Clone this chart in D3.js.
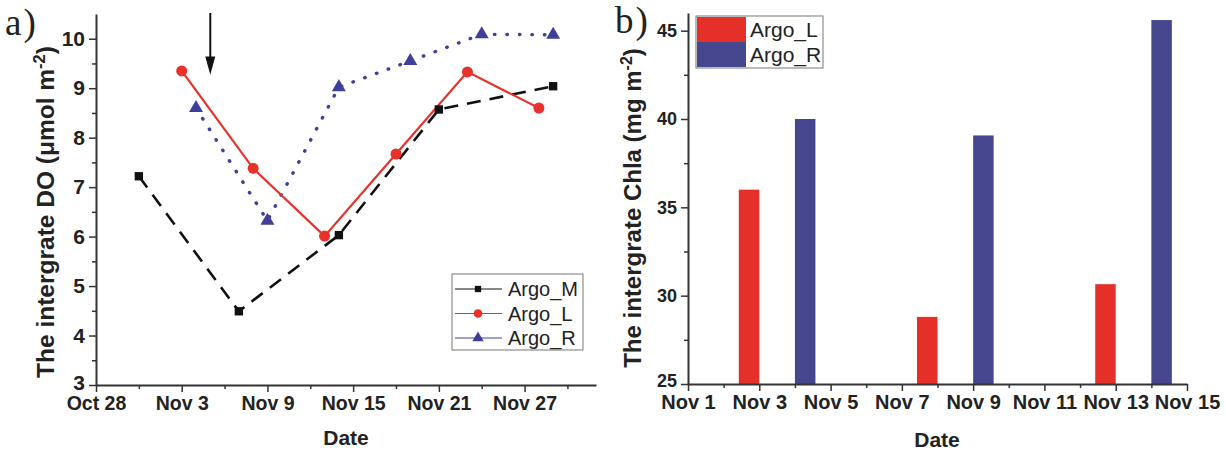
<!DOCTYPE html>
<html>
<head>
<meta charset="utf-8">
<script src="https://cdn.jsdelivr.net/npm/d3@7"></script>
<style>
  body { margin: 0; background: #fff; }
  svg { display: block; font-family: "Liberation Sans", Arial, sans-serif; }
</style>
</head>
<body>
<div id="chart"></div>
<script>
// ---- panel a) integrated DO ----
const doTicks = ["2015-10-28", "2015-11-03", "2015-11-09", "2015-11-15", "2015-11-21", "2015-11-27"];
const doDatesM = ["2015-10-31", "2015-11-07", "2015-11-14", "2015-11-21", "2015-11-29"];
const doValuesM = [7.22, 4.49, 6.03, 8.57, 9.04];
const doDatesL = ["2015-11-03", "2015-11-08", "2015-11-13", "2015-11-18", "2015-11-23", "2015-11-28"];
const doValuesL = [9.35, 7.38, 6.01, 7.67, 9.33, 8.60];
const doDatesR = ["2015-11-04", "2015-11-09", "2015-11-14", "2015-11-19", "2015-11-24", "2015-11-29"];
const doValuesR = [8.60, 6.32, 9.02, 9.55, 10.09, 10.08];
const doYTicks = [3, 4, 5, 6, 7, 8, 9, 10];

// ---- panel b) integrated Chla ----
const chlTicks = ["2015-11-01", "2015-11-03", "2015-11-05", "2015-11-07", "2015-11-09", "2015-11-11", "2015-11-13", "2015-11-15"];
const chlDatesL = ["2015-11-03", "2015-11-08", "2015-11-13"];
const chlValuesL = [36.0, 28.8, 30.65];
const chlDatesR = ["2015-11-04", "2015-11-09", "2015-11-14"];
const chlValuesR = [40.0, 39.07, 45.6];
const chlYTicks = [25, 30, 35, 40, 45];

const parse = d3.utcParse("%Y-%m-%d");
const fmt = d3.utcFormat("%b %-d");

const RED = "#e8312b", BLUE = "#3f3f9a", BAR_BLUE = "#46468f", AXIS = "#333";

const svg = d3.select("#chart").append("svg")
  .attr("width", 1226).attr("height", 451);

// minor ticks halfway between majors
function minorTicks(vals) {
  const out = [];
  for (let i = 0; i < vals.length - 1; i++) out.push(vals[i] + (vals[i + 1] - vals[i]) / 2);
  return out;
}

function styleMajor(g, size) {
  g.select(".domain").attr("stroke", AXIS).attr("stroke-width", 2);
  g.selectAll("line").attr("stroke", AXIS).attr("stroke-width", 1.5);
  g.selectAll("text").attr("fill", "#222").style("font-size", size).style("font-weight", "bold");
}

// ================= panel a =================
const xa = d3.scaleUtc()
  .domain([parse("2015-10-28"), parse("2015-12-02")])
  .range([96, 596]);
const ya = d3.scaleLinear().domain([3, 10.5]).range([385, 14]);

const aMajor = doTicks.map(parse);
const aMinor = aMajor.map(d => d3.utcDay.offset(d, 3));

// x axis
svg.append("g")
  .attr("transform", "translate(0,385)")
  .call(d3.axisBottom(xa).tickValues(aMinor).tickFormat("").tickSize(4).tickSizeOuter(0))
  .call(g => g.select(".domain").remove())
  .selectAll("line").attr("stroke", AXIS).attr("stroke-width", 1.5);
svg.append("g")
  .attr("transform", "translate(0,385)")
  .call(d3.axisBottom(xa).tickValues(aMajor).tickFormat(fmt).tickSize(7).tickSizeOuter(0).tickPadding(4))
  .call(g => styleMajor(g, "19.5px"));

// y axis
svg.append("g")
  .attr("transform", "translate(96,0)")
  .call(d3.axisLeft(ya).tickValues(minorTicks(doYTicks)).tickFormat("").tickSize(4).tickSizeOuter(0))
  .call(g => g.select(".domain").remove())
  .selectAll("line").attr("stroke", AXIS).attr("stroke-width", 1.5);
svg.append("g")
  .attr("transform", "translate(96,0)")
  .call(d3.axisLeft(ya).tickValues(doYTicks).tickSize(7).tickSizeOuter(0).tickPadding(4))
  .call(g => styleMajor(g, "21px"))
  .call(g => g.selectAll("text").filter(d => d === 3).attr("dy", "0.2em"));

// axis titles
svg.append("text")
  .attr("x", 346).attr("y", 445)
  .attr("text-anchor", "middle")
  .style("font-size", "21px").style("font-weight", "bold").attr("fill", "#222")
  .text("Date");
const yTitleA = svg.append("text")
  .attr("transform", "translate(54,212) rotate(-90)")
  .attr("text-anchor", "middle")
  .style("font-size", "24.5px").style("font-weight", "bold").attr("fill", "#222");
yTitleA.append("tspan").text("The intergrate DO (\u03bcmol m");
yTitleA.append("tspan").attr("dy", -9).style("font-size", "16.5px").text("-2");
yTitleA.append("tspan").attr("dy", 9).text(")");

svg.append("text")
  .attr("x", 5).attr("y", 35)
  .style("font-family", "'Liberation Serif', 'Times New Roman', serif")
  .style("font-size", "37px").style("letter-spacing", "2px").attr("fill", "#222")
  .text("a)");

// lines
const toPts = (dates, vals) => dates.map((d, i) => ({ date: parse(d), value: vals[i] }));
const ptsM = toPts(doDatesM, doValuesM);
const ptsL = toPts(doDatesL, doValuesL);
const ptsR = toPts(doDatesR, doValuesR);

const line = d3.line().x(d => xa(d.date)).y(d => ya(d.value));

svg.append("path").datum(ptsR)
  .attr("d", line).attr("fill", "none")
  .attr("stroke", BLUE).attr("stroke-width", 3.4)
  .attr("stroke-linecap", "round").attr("stroke-dasharray", "0.5,12");
svg.append("path").datum(ptsM)
  .attr("d", line).attr("fill", "none")
  .attr("stroke", "#111").attr("stroke-width", 2.6)
  .attr("stroke-dasharray", "14,9");
svg.append("path").datum(ptsL)
  .attr("d", line).attr("fill", "none")
  .attr("stroke", RED).attr("stroke-width", 2.2);

// markers
const sym = (type, size) => d3.symbol().type(type).size(size);
svg.append("g").selectAll("path").data(ptsM).enter().append("path")
  .attr("transform", d => `translate(${xa(d.date)},${ya(d.value)})`)
  .attr("d", sym(d3.symbolSquare, 70)).attr("fill", "#111");
svg.append("g").selectAll("path").data(ptsL).enter().append("path")
  .attr("transform", d => `translate(${xa(d.date)},${ya(d.value)})`)
  .attr("d", sym(d3.symbolCircle, 95)).attr("fill", RED);
svg.append("g").selectAll("path").data(ptsR).enter().append("path")
  .attr("transform", d => `translate(${xa(d.date)},${ya(d.value)})`)
  .attr("d", sym(d3.symbolTriangle, 85)).attr("fill", BLUE);

// arrow annotation
const ax = xa(parse("2015-11-05"));
svg.append("line")
  .attr("x1", ax).attr("x2", ax)
  .attr("y1", ya(10.52)).attr("y2", ya(9.5))
  .attr("stroke", "#111").attr("stroke-width", 2);
svg.append("path")
  .attr("d", `M${ax - 5},${ya(9.64)} L${ax + 5},${ya(9.64)} L${ax},${ya(9.27)} Z`)
  .attr("fill", "#111");

// legend a
const legA = svg.append("g").attr("transform", "translate(452,274)");
legA.append("rect").attr("width", 131).attr("height", 76)
  .attr("fill", "#fff").attr("stroke", "#777").attr("stroke-width", 1);
const legItems = [
  { name: "Argo_M", color: "#111", type: d3.symbolSquare, size: 40 },
  { name: "Argo_L", color: RED, type: d3.symbolCircle, size: 60 },
  { name: "Argo_R", color: BLUE, type: d3.symbolTriangle, size: 55 }
];
legItems.forEach((it, i) => {
  const yy = 15 + i * 24.5;
  legA.append("line").attr("x1", 3).attr("x2", 50).attr("y1", yy).attr("y2", yy)
    .attr("stroke", it.color).attr("stroke-width", 1);
  legA.append("path").attr("transform", `translate(26,${yy})`)
    .attr("d", d3.symbol().type(it.type).size(it.size)).attr("fill", it.color);
  legA.append("text").attr("x", 56).attr("y", yy + 7)
    .style("font-size", "20px").attr("fill", "#222").text(it.name);
});

// ================= panel b =================
const xb = d3.scaleUtc()
  .domain([parse("2015-11-01"), parse("2015-11-15")])
  .range([688, 1187]);
const yb = d3.scaleLinear().domain([25, 46]).range([384, 13]);

const bMajor = chlTicks.map(parse);
const bMinor = bMajor.slice(0, -1).map(d => d3.utcDay.offset(d, 1));

svg.append("g")
  .attr("transform", "translate(0,384)")
  .call(d3.axisBottom(xb).tickValues(bMinor).tickFormat("").tickSize(4).tickSizeOuter(0))
  .call(g => g.select(".domain").remove())
  .selectAll("line").attr("stroke", AXIS).attr("stroke-width", 1.5);

// bars: Argo_L just left of its date, Argo_R just right of its date
const dayW = xb(parse("2015-11-02")) - xb(parse("2015-11-01"));
const bw = dayW * 0.575;
const barsL = toPts(chlDatesL, chlValuesL);
const barsR = toPts(chlDatesR, chlValuesR);
svg.append("g").selectAll("rect").data(barsL).enter().append("rect")
  .attr("x", d => xb(d.date) - bw).attr("width", bw)
  .attr("y", d => yb(d.value)).attr("height", d => yb(25) - yb(d.value))
  .attr("fill", "#e5302a");
svg.append("g").selectAll("rect").data(barsR).enter().append("rect")
  .attr("x", d => xb(d.date)).attr("width", bw)
  .attr("y", d => yb(d.value)).attr("height", d => yb(25) - yb(d.value))
  .attr("fill", BAR_BLUE);

svg.append("g")
  .attr("transform", "translate(0,384)")
  .call(d3.axisBottom(xb).tickValues(bMajor).tickFormat(fmt).tickSize(7).tickSizeOuter(0).tickPadding(4))
  .call(g => styleMajor(g, "20px"));

svg.append("g")
  .attr("transform", "translate(688,0)")
  .call(d3.axisLeft(yb).tickValues(minorTicks(chlYTicks)).tickFormat("").tickSize(4).tickSizeOuter(0))
  .call(g => g.select(".domain").remove())
  .selectAll("line").attr("stroke", AXIS).attr("stroke-width", 1.5);
svg.append("g")
  .attr("transform", "translate(688,0)")
  .call(d3.axisLeft(yb).tickValues(chlYTicks).tickSize(7).tickSizeOuter(0).tickPadding(4))
  .call(g => styleMajor(g, "18px"))
  .call(g => g.selectAll("text").filter(d => d === 25).attr("dy", "0.15em"));

svg.append("text")
  .attr("x", 937).attr("y", 447)
  .attr("text-anchor", "middle")
  .style("font-size", "21px").style("font-weight", "bold").attr("fill", "#222")
  .text("Date");
const yTitleB = svg.append("text")
  .attr("transform", "translate(641,208) rotate(-90)")
  .attr("text-anchor", "middle")
  .style("font-size", "24px").style("font-weight", "bold").attr("fill", "#222");
yTitleB.append("tspan").text("The intergrate Chla (mg m");
yTitleB.append("tspan").attr("dy", -9).style("font-size", "16px").text("-2");
yTitleB.append("tspan").attr("dy", 9).text(")");

svg.append("text")
  .attr("x", 615).attr("y", 33)
  .style("font-family", "'Liberation Serif', 'Times New Roman', serif")
  .style("font-size", "37px").style("letter-spacing", "2px").attr("fill", "#222")
  .text("b)");

// legend b
const legB = svg.append("g").attr("transform", "translate(696,16)");
legB.append("rect").attr("width", 127).attr("height", 52)
  .attr("fill", "#fff").attr("stroke", "#777").attr("stroke-width", 1);
[{ name: "Argo_L", color: "#e5302a" }, { name: "Argo_R", color: BAR_BLUE }].forEach((it, i) => {
  legB.append("rect").attr("x", 1).attr("y", 1 + i * 25).attr("width", 49).attr("height", 25)
    .attr("fill", it.color);
  legB.append("text").attr("x", 54).attr("y", 21 + i * 25)
    .style("font-size", "21px").attr("fill", "#222").text(it.name);
});
</script>
</body>
</html>
